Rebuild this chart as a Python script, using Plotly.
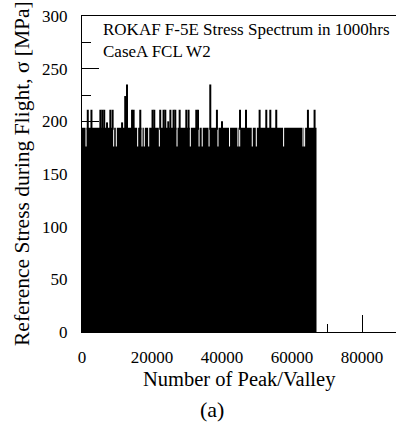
import plotly.graph_objects as go

# ---- peak/valley stress record, 1000 flight hours ----
n_reversals = 67000      # index of the last peak/valley in the record
common_peak = 194        # level reached by most peaks [MPa]
short_peak = 176         # peaks that stop below the common level [MPa]

# peaks that stop at the lower level
short_peak_idx = [1150, 9050, 9800, 15900, 17150, 17800, 19050, 22100, 27150,
                  30950, 33450, 34350, 36300, 38850, 42150, 44550, 45050,
                  48650, 49800, 57600, 63150, 63600]

# peaks that rise above the common level
high_peak_idx = [1650, 2700, 5250, 5800, 6350, 7150, 8100, 8750, 11450, 12350,
                 12850, 14300, 14750, 16650, 20150, 20650, 22350, 23300, 23800,
                 24650, 25250, 26150, 26650, 27900, 29800, 30450, 32650, 33150,
                 36650, 38550, 40000, 45150, 46850, 50750, 52650, 53800, 55500,
                 64550, 66450]
high_peak_val = [211, 211, 211, 211, 211, 199, 211, 211, 199, 224,
                 235, 211, 211, 211, 211, 211, 211, 211, 211,
                 200, 211, 211, 211, 211, 211, 211, 211, 211,
                 235, 211, 200, 211, 211, 211, 211, 211, 211,
                 211, 211]

x_ticks = [0, 20000, 40000, 60000, 80000]
y_ticks = [0, 50, 100, 150, 200, 250, 300]

FONT = "Liberation Serif, Times New Roman, serif"
notch = 150  # half width of a short-peak gap, in reversal units

# envelope of the dense block: common level with gaps at the short peaks
env_x, env_y = [0], [common_peak]
for g in sorted(short_peak_idx):
    env_x += [g - notch, g - notch, g + notch, g + notch]
    env_y += [common_peak, short_peak, short_peak, common_peak]
env_x.append(n_reversals)
env_y.append(common_peak)

# isolated higher peaks as vertical strokes
sp_x, sp_y = [], []
for i, v in zip(high_peak_idx, high_peak_val):
    sp_x += [i, i, None]
    sp_y += [common_peak - 2, v, None]

fig = go.Figure()
fig.add_trace(go.Scatter(x=env_x, y=env_y, mode="lines", fill="tozeroy",
                         fillcolor="black", line=dict(width=0, color="black"),
                         hoverinfo="skip", showlegend=False))
fig.add_trace(go.Scatter(x=sp_x, y=sp_y, mode="lines",
                         line=dict(width=2, color="black"),
                         hoverinfo="skip", showlegend=False))

fig.update_layout(
    width=396, height=425,
    margin=dict(l=82, r=0, t=16, b=93),
    paper_bgcolor="white", plot_bgcolor="white",
    font=dict(family=FONT, size=17, color="black"),
    showlegend=False,
)
fig.update_xaxes(
    range=[0, 89714], tickvals=x_ticks, ticktext=[str(v) for v in x_ticks],
    ticks="inside", ticklen=17, tickwidth=1, tickcolor="black",
    minor=dict(ticks="inside", ticklen=8, dtick=10000, tickcolor="black", tickwidth=1),
    showline=True, linecolor="black", linewidth=1, mirror=True,
    showgrid=False, zeroline=False, ticklabelstandoff=10,
    tickfont=dict(family=FONT, size=17, color="black"),
)
fig.update_yaxes(
    range=[0, 300], tickvals=y_ticks, ticktext=[str(v) for v in y_ticks],
    ticks="inside", ticklen=17, tickwidth=1, tickcolor="black",
    minor=dict(ticks="inside", ticklen=9, dtick=25, tickcolor="black", tickwidth=1),
    showline=True, linecolor="black", linewidth=1,
    showgrid=False, zeroline=False, ticklabelstandoff=10,
    tickfont=dict(family=FONT, size=17, color="black"),
)

fig.add_annotation(text="Number of Peak/Valley", xref="paper", yref="paper",
                   x=0.5, y=0, xanchor="center", yanchor="middle", yshift=-47,
                   showarrow=False, font=dict(family=FONT, size=20.5, color="black"))
fig.add_annotation(text="Reference Stress during Flight, \u03c3 [MPa]",
                   xref="paper", yref="paper", x=0, y=0.5, xshift=-60,
                   xanchor="center", yanchor="middle", textangle=-90,
                   showarrow=False, font=dict(family=FONT, size=21.5, color="black"))
fig.add_annotation(text="(a)", xref="paper", yref="paper", x=0.414, y=0,
                   xanchor="center", yanchor="middle", yshift=-77,
                   showarrow=False, font=dict(family=FONT, size=22, color="black"))
fig.add_annotation(text="ROKAF F-5E Stress Spectrum in 1000hrs", xref="paper",
                   yref="paper", x=0.06, y=1, xanchor="left", yanchor="middle",
                   yshift=-13, showarrow=False,
                   font=dict(family=FONT, size=17, color="black"))
fig.add_annotation(text="CaseA FCL W2", xref="paper", yref="paper", x=0.06, y=1,
                   xanchor="left", yanchor="middle", yshift=-35, showarrow=False,
                   font=dict(family=FONT, size=17, color="black"))

fig.write_html("out.html")
